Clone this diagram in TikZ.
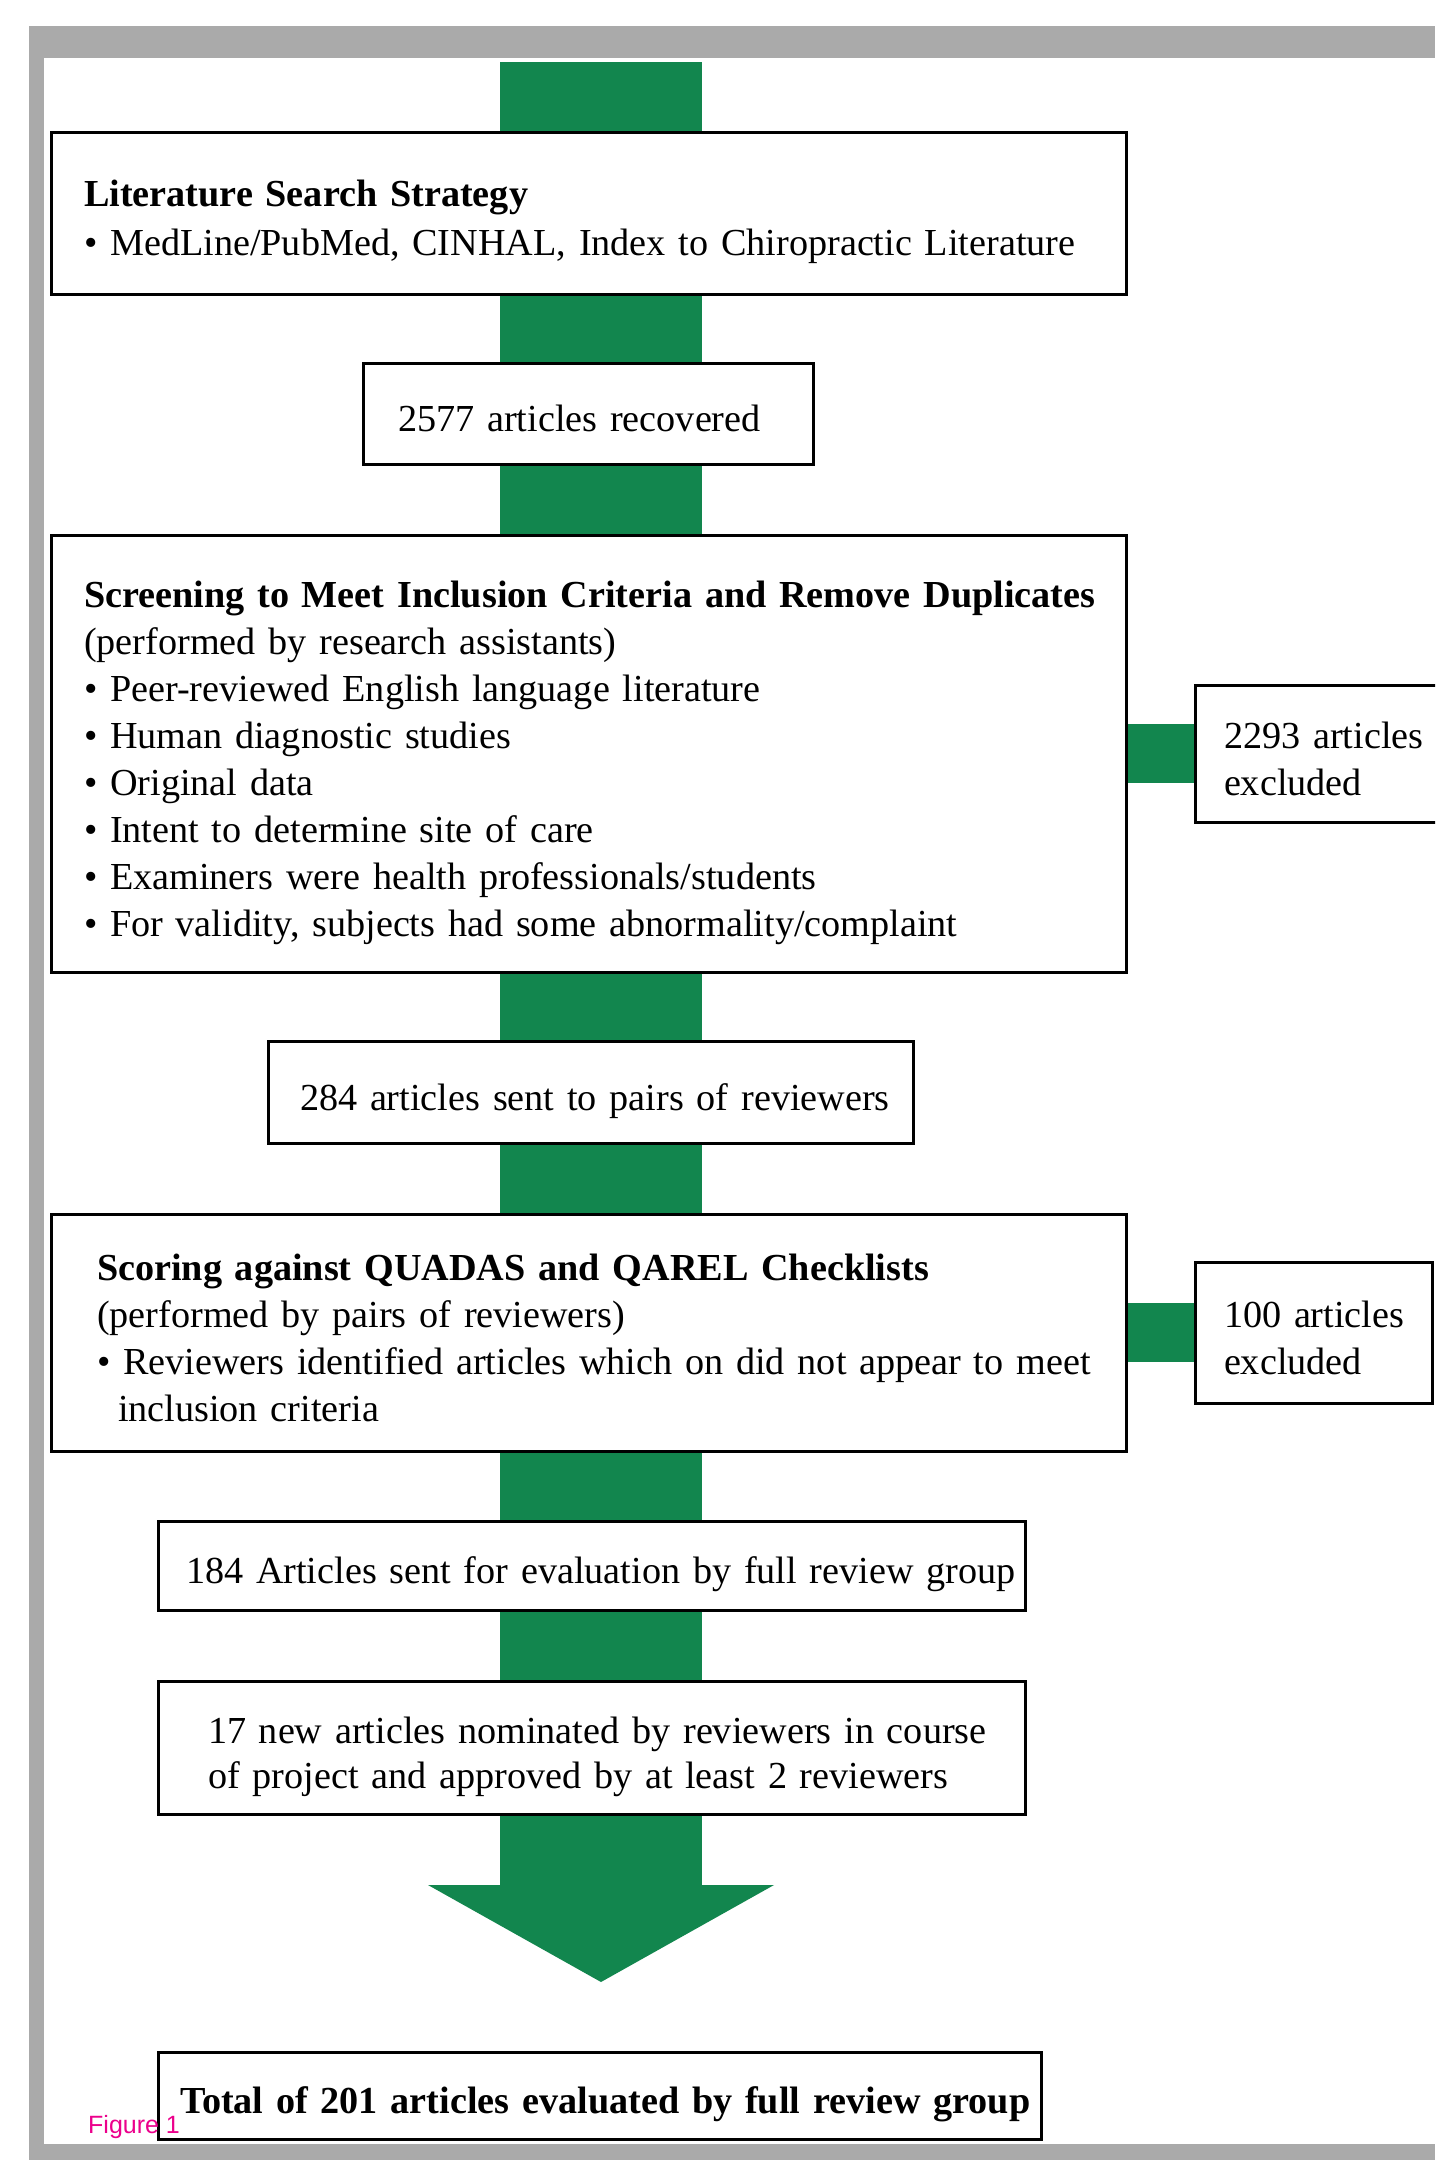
\documentclass[tikz,border=0pt]{standalone}
\usepackage{fontspec}
\setmainfont{Liberation Serif}
\newfontfamily\figfont{Liberation Sans}
\usetikzlibrary{arrows.meta}
\definecolor{trunkgreen}{RGB}{18,134,78}
\definecolor{framegray}{RGB}{170,170,170}
\pgfdeclarelayer{background}
\pgfsetlayers{background,main}
\newcommand{\tstrut}{\rule{0pt}{48pt}}
\newcommand{\bstrut}{\rule[-12pt]{0pt}{12pt}}
\newcommand{\sstrut}{\rule[-12pt]{0pt}{60pt}}
\begin{document}
\begin{tikzpicture}[x=1pt,y=-1pt,
  font=\fontsize{38.2}{47}\selectfont,
  box/.style={draw=black, line width=3pt, fill=white, anchor=north west,
    align=left, inner ysep=0pt, outer sep=0pt},
  greenbar/.style={draw=trunkgreen, line width=202pt},
  sidebar/.style={draw=trunkgreen, line width=59pt},
  figlabel/.style={font=\figfont\fontsize{25}{25}\selectfont, text=magenta,
    anchor=base west, inner sep=0pt}]
\useasboundingbox (0,0) rectangle (1435,2160);
\clip (0,0) rectangle (1435,2160);

% boxes
\node[box, minimum width=1075pt, minimum height=162pt, text width=1009pt, inner xsep=33pt,
  font=\fontsize{38.2}{49}\selectfont] (b1) at (51,132)
  {\mbox{\tstrut\textbf{Literature Search Strategy}}\\
   \mbox{• MedLine/PubMed, CINHAL, Index to Chiropractic Literature\bstrut}};
\node[box, minimum width=450pt, minimum height=101pt, text width=380pt, inner xsep=35pt] (b2) at (363,363)
  {\mbox{\sstrut 2577 articles recovered}};
\node[box, minimum width=1075pt, minimum height=437pt, text width=1009pt, inner xsep=33pt] (b3) at (51,535)
  {\mbox{\tstrut\textbf{Screening to Meet Inclusion Criteria and Remove Duplicates}}\\
   \mbox{(performed by research assistants)}\\
   \mbox{• Peer-reviewed English language literature}\\
   \mbox{• Human diagnostic studies}\\
   \mbox{• Original data}\\
   \mbox{• Intent to determine site of care}\\
   \mbox{• Examiners were health professionals/students}\\
   \mbox{• For validity, subjects had some abnormality/complaint\bstrut}};
\node[box, minimum width=300pt, minimum height=137pt, text width=242pt, inner xsep=29pt] (ex1) at (1195,685)
  {\mbox{\tstrut 2293 articles}\\ \mbox{excluded\bstrut}};
\node[box, minimum width=645pt, minimum height=102pt, text width=581pt, inner xsep=32pt] (b284) at (268,1041)
  {\mbox{\sstrut 284 articles sent to pairs of reviewers}};
\node[box, minimum width=1075pt, minimum height=237pt, text width=983pt, inner xsep=46pt] (b4) at (51,1214)
  {\mbox{\tstrut\textbf{Scoring against QUADAS and QAREL Checklists}}\\
   \mbox{(performed by pairs of reviewers)}\\
   \mbox{• Reviewers identified articles which on did not appear to meet}\\
   \mbox{\hspace*{21pt}inclusion criteria\bstrut}};
\node[box, minimum width=237pt, minimum height=141pt, text width=179pt, inner xsep=29pt] (ex2) at (1195,1262)
  {\mbox{\tstrut 100 articles}\\ \mbox{excluded\bstrut}};
\node[box, minimum width=867pt, minimum height=89pt, text width=811pt, inner xsep=28pt] (b184) at (158,1521)
  {\mbox{\sstrut 184 Articles sent for evaluation by full review group}};
\node[box, minimum width=867pt, minimum height=133pt, text width=767pt, inner xsep=50pt,
  font=\fontsize{38.2}{45}\selectfont] (b17) at (158,1681)
  {\mbox{\tstrut 17 new articles nominated by reviewers in course}\\
   \mbox{of project and approved by at least 2 reviewers\bstrut}};
\node[box, minimum width=883pt, minimum height=87pt, text width=839pt, inner xsep=22pt] (bfin) at (158,2052)
  {\mbox{\sstrut\textbf{Total of 201 articles evaluated by full review group}}};
\node[figlabel] (fig) at (88,2133) {Figure 1};

% frame and connectors behind the boxes
\begin{pgfonlayer}{background}
\fill[framegray] (29,26) rectangle (1435,2160);
\fill[white] (44,58) rectangle (1435,2144);
\coordinate (top) at (601,62);
\coordinate (neck) at (601,1885);
\coordinate (tip) at (601,1982);
\draw[greenbar] (top) -- (top |- b1.north);
\draw[greenbar] (b1.south -| top) -- (b2.north -| top);
\draw[greenbar] (b2.south -| top) -- (b3.north -| top);
\draw[greenbar] (b3.south -| top) -- (b284.north -| top);
\draw[greenbar] (b284.south -| top) -- (b4.north -| top);
\draw[greenbar] (b4.south -| top) -- (b184.north -| top);
\draw[greenbar] (b184.south -| top) -- (b17.north -| top);
\draw[greenbar] (b17.south -| top) -- (neck);
\fill[trunkgreen] ([xshift=-173pt]neck) -- ([xshift=173pt]neck) -- (tip) -- cycle;
\draw[sidebar] (b3.east |- ex1.west) -- (ex1.west);
\draw[sidebar] (b4.east |- ex2.west) -- (ex2.west);
\end{pgfonlayer}
\end{tikzpicture}
\end{document}
